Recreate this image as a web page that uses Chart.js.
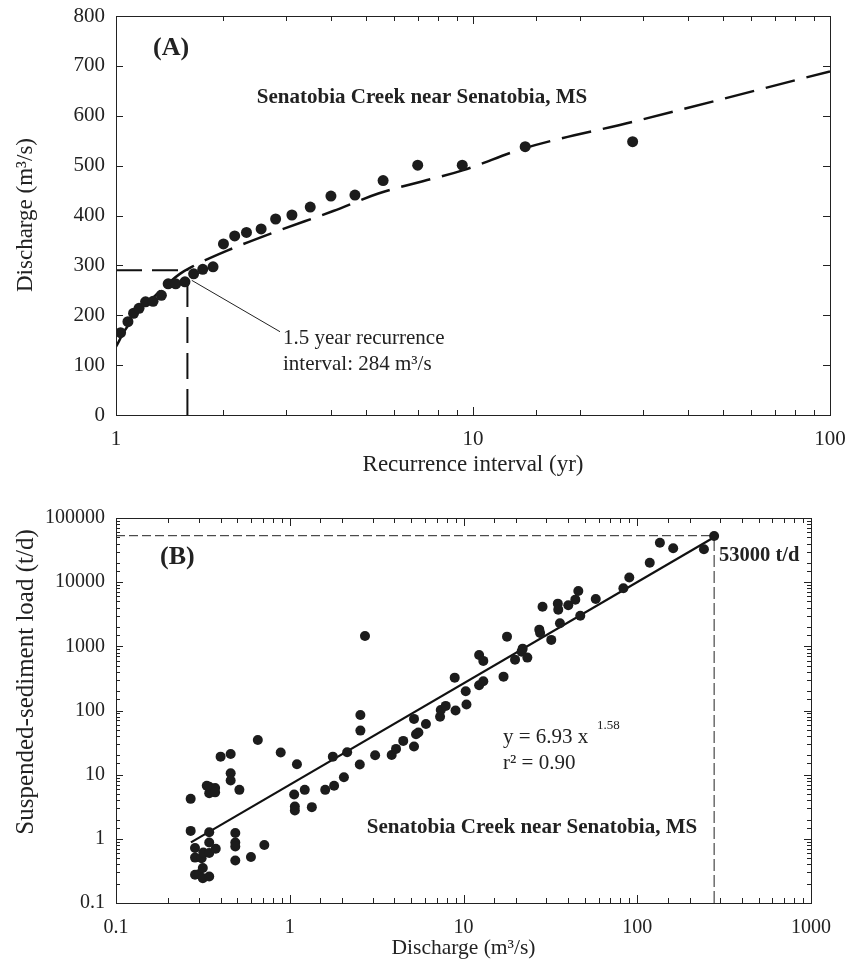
<!DOCTYPE html>
<html>
<head>
<meta charset="utf-8">
<script src="https://cdn.jsdelivr.net/npm/chart.js@4/dist/chart.umd.min.js"></script>
<style>
  body { margin: 0; background: #fff; }
  #wrap { position: relative; width: 848px; height: 966px; }
  canvas { position: absolute; left: 0; }
  #chartA { top: 0; }
  #chartB { top: 490px; }
</style>
</head>
<body>
<div id="wrap">
  <canvas id="chartA" width="848" height="480"></canvas>
  <canvas id="chartB" width="848" height="476"></canvas>
</div>
<script>
// (A) flood frequency: recurrence interval (yr) vs discharge (m3/s)
const recurYr = [1.03, 1.08, 1.12, 1.16, 1.21, 1.27, 1.34, 1.4, 1.47, 1.56, 1.65, 1.75, 1.87,
                 2.0, 2.15, 2.32, 2.55, 2.8, 3.11, 3.5, 4.0, 4.67, 5.6, 7.0, 9.33, 14.0, 28.0];
const peakQ   = [165, 187, 204, 214, 227, 228, 240, 263, 263, 267, 283, 292, 297,
                 343, 359, 366, 373, 393, 401, 417, 439, 441, 470, 501, 501, 538, 548];
// fitted frequency curve (dashed)
const curveYr = [1.0, 1.06, 1.12, 1.19, 1.29, 1.39, 1.51, 1.63, 2.04, 2.79, 4.06, 5.43, 9.4, 13.8, 28.1, 100];
const curveQ  = [137, 170, 194, 217, 240, 262, 283, 297, 329, 367, 409, 444, 491, 534, 588, 689];
// 1.5-yr reference lines and leader line
const refYr = 1.585;
const refQ = 290;
const leaderYr = [1.63, 2.88];
const leaderQ  = [270, 167];

// (B) sediment rating: discharge (m3/s) vs suspended-sediment load (t/d)
const sedQ = [0.269, 0.269, 0.285, 0.285, 0.311, 0.318, 0.285, 0.30, 0.316, 0.316, 0.344, 0.344,
              0.344, 0.344, 0.375, 0.344, 0.344, 0.372, 0.372, 0.333, 0.40, 0.457, 0.457, 0.457,
              0.513, 0.486, 0.486, 0.486, 0.486, 0.598, 0.714, 0.655, 0.887, 1.10, 1.06, 1.07,
              1.07, 1.22, 1.34, 1.60, 1.80, 1.77, 2.05, 2.14, 2.53, 2.55, 2.55, 2.71, 3.10, 3.86,
              4.09, 4.50, 5.19, 5.19, 5.33, 5.5, 6.08, 7.33, 7.4, 7.9, 9.0, 8.9, 10.3, 10.4,
              12.3, 13.0, 12.3, 13.0, 17.0, 17.8, 19.8, 21.6, 21.9, 23.3, 27.3, 27.6, 28.5, 32,
              34.9, 35.1, 35.9, 40.1, 44.0, 45.8, 47.0, 57.7, 83.2, 90, 118, 135, 161, 242, 277];
const sedLoad = [4.2, 1.33, 0.72, 0.51, 0.50, 0.61, 0.275, 0.28, 0.35, 0.244, 0.259, 1.27,
                 0.875, 0.60, 0.70, 6.5, 5.15, 6.2, 5.3, 6.7, 19.1, 21, 10.5, 8.1,
                 5.8, 1.23, 0.875, 0.76, 0.46, 0.52, 0.80, 34.8, 22.1, 14.5, 4.9, 3.18,
                 2.76, 5.8, 3.12, 5.8, 6.7, 19.1, 9.1, 22.4, 14.4, 48.6, 85, 1450, 20.1, 20.3,
                 25.2, 33.6, 27.4, 74, 42.7, 45.3, 61.8, 80, 102, 118, 100, 325, 200, 124,
                 735, 593, 248, 286, 337, 1416, 620, 826, 920, 667, 1820, 1617, 4150, 1260,
                 4630, 3730, 2290, 4370, 5340, 7300, 3000, 5470, 8040, 11840, 20100, 41200, 33700, 32500, 52500];
// power-law fit y = 6.93 x^1.58, end points
const fitQ = [0.27, 277];
const fitLoad = [0.88, 50000];
const designQ = 277;
const designLoad = 53000;

const serif = "'Liberation Serif', 'Times New Roman', serif";
Chart.defaults.font.family = serif;
Chart.defaults.color = '#222';

const pts = (xs, ys) => xs.map((x, i) => ({ x: x, y: ys[i] }));

const isDecade = (v) => {
    const l = Math.log10(v);
    return Math.abs(l - Math.round(l)) < 1e-6;
};
const decadeLabel = (v) => {
    if (!isDecade(v)) return '';
    return v < 1 ? v.toFixed(1) : String(Math.round(v));
};

// fixed axis box, no label overflow padding (layout.padding decides the plot edges)
const fixBox = (size) => (s) => {
    if (s.isHorizontal()) s.height = size; else s.width = size;
    s.paddingTop = 0; s.paddingBottom = 0; s.paddingLeft = 0; s.paddingRight = 0;
};

// frame + inward ticks on all four sides
const frameTicks = {
    id: 'frameTicks',
    afterDatasetsDraw(chart) {
        const { ctx, chartArea: a, scales } = chart;
        ctx.save();
        ctx.strokeStyle = '#222';
        ctx.lineWidth = 1;
        ctx.strokeRect(Math.round(a.left) + 0.5, Math.round(a.top) + 0.5,
                       Math.round(a.right - a.left), Math.round(a.bottom - a.top));
        ctx.beginPath();
        scales.x.ticks.forEach(t => {
            const major = scales.x.type !== 'logarithmic' || isDecade(t.value);
            const len = major ? 8 : 5;
            const px = Math.round(scales.x.getPixelForValue(t.value)) + 0.5;
            ctx.moveTo(px, a.bottom); ctx.lineTo(px, a.bottom - len);
            ctx.moveTo(px, a.top); ctx.lineTo(px, a.top + len);
        });
        scales.y.ticks.forEach(t => {
            const major = scales.y.type !== 'logarithmic' || isDecade(t.value);
            const len = major ? 7 : 4;
            const py = Math.round(scales.y.getPixelForValue(t.value)) + 0.5;
            ctx.moveTo(a.left, py); ctx.lineTo(a.left + len, py);
            ctx.moveTo(a.right, py); ctx.lineTo(a.right - len, py);
        });
        ctx.stroke();
        ctx.restore();
    }
};

// free text: panel letters, station names, fit notes, rotated y titles
const notes = (list) => ({
    id: 'notes',
    afterDraw(chart) {
        const ctx = chart.ctx;
        ctx.save();
        ctx.fillStyle = '#222';
        ctx.textBaseline = 'middle';
        list.forEach(n => {
            ctx.save();
            ctx.font = n.font;
            ctx.textAlign = n.align || 'left';
            ctx.translate(n.x, n.y);
            if (n.rotate) ctx.rotate(-Math.PI / 2);
            ctx.fillText(n.text, 0, 0);
            ctx.restore();
        });
        ctx.restore();
    }
});

new Chart(document.getElementById('chartA'), {
    type: 'scatter',
    data: {
        datasets: [
            { data: pts(recurYr, peakQ), pointRadius: 5.5, pointBackgroundColor: '#1c1c1c', pointBorderWidth: 0 },
            { data: pts(curveYr, curveQ), showLine: true, borderColor: '#111', borderWidth: 2.5,
              borderDash: [30, 12], pointRadius: 0, cubicInterpolationMode: 'monotone' },
            { data: [{ x: 1, y: refQ }, { x: refYr, y: refQ }], showLine: true, borderColor: '#111',
              borderWidth: 2, borderDash: [26, 10], pointRadius: 0 },
            { data: [{ x: refYr, y: 0 }, { x: refYr, y: refQ }], showLine: true, borderColor: '#111',
              borderWidth: 2, borderDash: [26, 10], pointRadius: 0 },
            { data: pts(leaderYr, leaderQ), showLine: true, borderColor: '#222', borderWidth: 1, pointRadius: 0 }
        ]
    },
    options: {
        responsive: false,
        animation: false,
        layout: { padding: { top: 16, right: 18, left: 0, bottom: 0 } },
        plugins: { legend: { display: false }, tooltip: { enabled: false } },
        scales: {
            x: {
                type: 'logarithmic', min: 1, max: 100,
                grid: { display: false, drawTicks: false }, border: { display: false },
                ticks: { font: { size: 21 }, color: '#222', padding: 12, autoSkip: false, maxRotation: 0,
                         callback: (v) => decadeLabel(v) },
                title: { display: true, text: 'Recurrence interval (yr)', font: { size: 23 }, color: '#222',
                         padding: { top: 0, bottom: 1 } },
                afterFit: fixBox(65)
            },
            y: {
                type: 'linear', min: 0, max: 800,
                grid: { display: false, drawTicks: false }, border: { display: false },
                ticks: { font: { size: 21 }, color: '#222', padding: 11, stepSize: 100 },
                afterFit: fixBox(116)
            }
        }
    },
    plugins: [frameTicks, notes([
        { text: 'Discharge (m³/s)', x: 26, y: 215, font: '23px ' + serif, align: 'center', rotate: true },
        { text: '(A)', x: 153, y: 48, font: 'bold 26px ' + serif },
        { text: 'Senatobia Creek near Senatobia, MS', x: 422, y: 98, font: 'bold 21px ' + serif, align: 'center' },
        { text: '1.5 year recurrence', x: 283, y: 338, font: '21px ' + serif },
        { text: 'interval: 284 m³/s', x: 283, y: 364, font: '21px ' + serif }
    ])]
});

new Chart(document.getElementById('chartB'), {
    type: 'scatter',
    data: {
        datasets: [
            { data: pts(sedQ, sedLoad), pointRadius: 5, pointBackgroundColor: '#1c1c1c', pointBorderWidth: 0 },
            { data: pts(fitQ, fitLoad), showLine: true, borderColor: '#111', borderWidth: 2.2, pointRadius: 0 },
            { data: [{ x: 0.1, y: designLoad }, { x: designQ, y: designLoad }], showLine: true,
              borderColor: '#222', borderWidth: 1, borderDash: [9, 4], pointRadius: 0 },
            { data: [{ x: designQ, y: 0.1 }, { x: designQ, y: designLoad }], showLine: true,
              borderColor: '#222', borderWidth: 1, borderDash: [12, 4], pointRadius: 0 }
        ]
    },
    options: {
        responsive: false,
        animation: false,
        layout: { padding: { top: 28, right: 37, left: 0, bottom: 0 } },
        plugins: { legend: { display: false }, tooltip: { enabled: false } },
        scales: {
            x: {
                type: 'logarithmic', min: 0.1, max: 1000,
                grid: { display: false, drawTicks: false }, border: { display: false },
                ticks: { font: { size: 20 }, color: '#222', padding: 13, autoSkip: false, maxRotation: 0,
                         callback: (v) => decadeLabel(v) },
                title: { display: true, text: 'Discharge (m³/s)', font: { size: 21.5 }, color: '#222',
                         padding: { top: 0, bottom: 5 } },
                afterFit: fixBox(63)
            },
            y: {
                type: 'logarithmic', min: 0.1, max: 100000,
                grid: { display: false, drawTicks: false }, border: { display: false },
                ticks: { font: { size: 20 }, color: '#222', padding: 11, autoSkip: false,
                         callback: (v) => decadeLabel(v) },
                afterFit: fixBox(116)
            }
        }
    },
    plugins: [frameTicks, notes([
        { text: 'Suspended-sediment load (t/d)', x: 26, y: 192, font: '25px ' + serif, align: 'center', rotate: true },
        { text: '(B)', x: 160, y: 67, font: 'bold 26px ' + serif },
        { text: '53000 t/d', x: 719, y: 66, font: 'bold 20.5px ' + serif },
        { text: 'y = 6.93 x', x: 503, y: 247, font: '21px ' + serif },
        { text: '1.58', x: 597, y: 236, font: '13px ' + serif },
        { text: 'r² = 0.90', x: 503, y: 273, font: '21px ' + serif },
        { text: 'Senatobia Creek near Senatobia, MS', x: 532, y: 338, font: 'bold 21px ' + serif, align: 'center' }
    ])]
});
</script>
</body>
</html>
